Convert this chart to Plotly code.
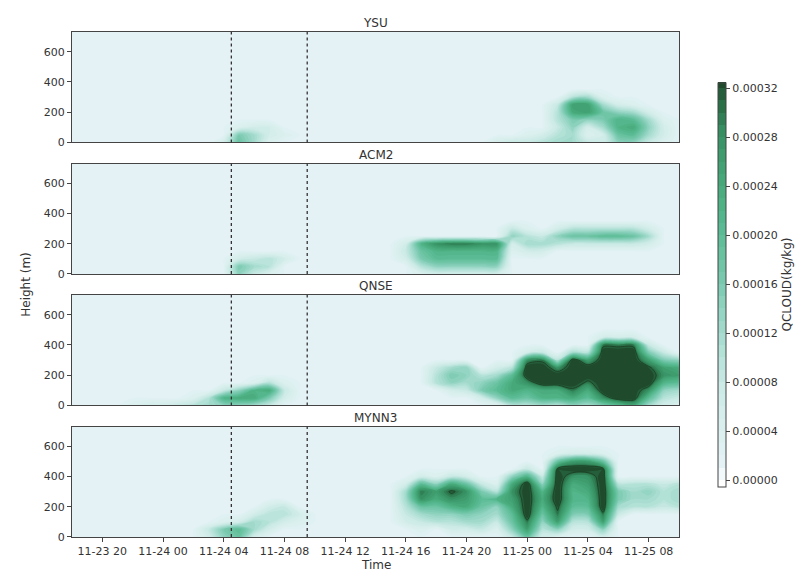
import numpy as np
import pandas as pd
import plotly.graph_objects as go
from plotly.subplots import make_subplots

# ---------------- data ----------------
schemes = ["YSU", "ACM2", "QNSE", "MYNN3"]
start_time = "2023-11-23 18:00"
n_times = 41                      # hourly, 11-23 18:00 .. 11-25 10:00
heights = list(range(0, 800, 50))  # m, 16 levels
vline_times = ["2023-11-24 04:30", "2023-11-24 09:30"]
cbar_ticks = [0.0, 0.00004, 0.00008, 0.00012, 0.00016, 0.00020, 0.00024, 0.00028, 0.00032]
xtick_start = "2023-11-23 20:00"

# QCLOUD coded per hour column (bottom->top, 0..750 m); char index * 2e-5 kg/kg
LEVEL_CODE = "0123456789abcdefgh"
LEVEL_STEP = 0.00002
BG = "1111111111111111"

ysu_cols = [BG] * 10 + [
    "3111111111111111", "9821111111111111", "6631111111111111", "2331111111111111",
    "1211111111111111"] + [BG] * 13 + [
    "3111111111111111", "4111111111111111", "4211111111111111", "5311111111111111",
    "6545541111111111", "6678cd5111111111", "4237dd6111111111", "3368962111111111",
    "79bb731111111111", "7aca621111111111", "4676311111111111", "2332111111111111",
    BG]

acm2_cols = [BG] * 11 + [
    "7831111111111111", "4641111111111111", "2551111111111111", "1131111111111111"] + [BG] * 7 + [
    "1134311111111111", "2589b11111111111", "37abe11111111111", "37abf11111111111",
    "37abf11111111111", "37abe11111111111", "37abe11111111111", "1112374111111111",
    "1113652111111111", "1113641111111111", "1111573111111111", "1111495111111111",
    "1111495111111111", "11114a5111111111", "11114a5111111111", "1111495111111111",
    "1111363111111111", BG, BG]

qnse_cols = [BG] * 4 + [
    "2111111111111111", "3111111111111111", "3111111111111111", "4111111111111111",
    "5211111111111111", "6511111111111111", "7b41111111111111", "7c71111111111111",
    "6cb2111111111111", "48c5111111111111", "1342111111111111"] + [BG] * 9 + [
    "1115541111111111", "1137861111111111", "1146771111111111", "1387511111111111",
    "17a9631111111111", "5acca51111111111", "59behhe311111111", "6bchhhf411111111",
    "5bchhe5111111111", "7cfhhhh611111111", "6acfhhd511111111", "8ehhhhhhf3111111",
    "ahhhhhhhf3111111", "chhhhhhhf3111111", "6aehhgd841111111", "357bed8411111111",
    "246adc7111111111"]

mynn3_cols = [BG] * 9 + [
    "3411111111111111", "7821111111111111", "9a31111111111111", "3663111111111111",
    "1355311111111111", "1135411111111111", "1123111111111111"] + [BG] * 6 + [
    "1134566311111111", "12469efa31111111", "11579cd721111111", "1357begc41111111",
    "1368cde931111111", "14679a8411111111", "12467b5211111111", "479acdec71111111",
    "9dfhhhhhb4111111", "3579bcb741111111", "27dfghhhhg921111", "1358abbcehd31111",
    "1358abcdehd31111", "37dfhhhhhg921111", "1114688511111111", "1111566511111111",
    "1111567511111111", "1111455411111111", "1111566511111111"]

panels = [ysu_cols, acm2_cols, qnse_cols, mynn3_cols]


def decode(cols):
    assert len(cols) == n_times, len(cols)
    for c in cols:
        assert len(c) == len(heights), c
    arr = np.array([[LEVEL_CODE.index(ch) * LEVEL_STEP for ch in col] for col in cols])
    return arr.T  # (heights, times)


times = pd.date_range(start_time, periods=n_times, freq="h")

# ---------------- figure ----------------
fig = make_subplots(rows=4, cols=1, shared_xaxes=True, vertical_spacing=0.0416,
                    subplot_titles=schemes)

colorscale = [
    [0.0, "#ffffff"],
    [0.0625, "#e3f2f5"],
    [0.125, "#ddf0f0"],
    [0.25, "#cbeae5"],
    [0.375, "#a6dccf"],
    [0.5, "#7ccab1"],
    [0.625, "#5bbc95"],
    [0.75, "#47aa7a"],
    [0.875, "#379163"],
    [0.94, "#2b7148"],
    [1.0, "#1f4a2b"],
]

for i, cols in enumerate(panels):
    z = decode(cols)
    fig.add_trace(go.Contour(
        x=times, y=heights, z=z, coloraxis="coloraxis",
        contours=dict(start=0, end=0.00032, size=0.00001, coloring="fill"),
        line=dict(width=0), hoverinfo="skip"), row=i + 1, col=1)
    fig.add_trace(go.Contour(
        x=times, y=heights, z=z, showscale=False,
        contours=dict(start=0.00031, end=0.00031, size=0.00001, coloring="lines"),
        colorscale=[[0, "#1b3b22"], [1, "#1b3b22"]],
        line=dict(width=0.8), hoverinfo="skip"), row=i + 1, col=1)
    for vt in vline_times:
        fig.add_shape(type="line", x0=vt, x1=vt, y0=0, y1=1,
                      xref=f"x{i + 1}" if i else "x", yref=f"y{i + 1} domain" if i else "y domain",
                      line=dict(color="#333333", width=1.3, dash="dot"))

axis_common = dict(showline=True, linecolor="#444444", linewidth=1, mirror=True,
                   showgrid=False, zeroline=False)
for i in range(4):
    fig.update_yaxes(range=[0, 730], tickvals=[0, 200, 400, 600], ticks="outside",
                     ticklen=4, tickcolor="#444444",
                     tickfont=dict(size=11, color="#333333"), row=i + 1, col=1, **axis_common)
    fig.update_xaxes(range=["2023-11-23 18:00", "2023-11-25 10:00"], type="date",
                     row=i + 1, col=1, **axis_common)
    if i < 3:
        fig.update_xaxes(showticklabels=False, ticks="", row=i + 1, col=1)
fig.update_xaxes(tickformat="%m-%d %H", dtick=4 * 3600 * 1000, tick0=xtick_start,
                 ticks="outside", ticklen=4, tickcolor="#444444",
                 tickfont=dict(size=11, color="#333333"), row=4, col=1)

for ann in fig.layout.annotations:
    ann.font = dict(size=12, color="#333333", family="DejaVu Sans")

fig.add_annotation(text="Height (m)", textangle=-90, x=-0.077, y=0.5, xref="paper", yref="paper",
                   xanchor="center", yanchor="middle",
                   showarrow=False, font=dict(size=12, color="#333333"))
fig.add_annotation(text="Time", x=0.5, y=-0.037, xref="paper", yref="paper", yanchor="top",
                   xanchor="center", showarrow=False, font=dict(size=12, color="#333333"))

fig.update_layout(
    width=800, height=572,
    margin=dict(l=72, r=121, t=32, b=35, autoexpand=False),
    paper_bgcolor="white", plot_bgcolor="#e3f2f5",
    font=dict(family="DejaVu Sans", color="#333333"),
    showlegend=False,
    coloraxis=dict(
        cmin=0, cmax=0.00032, colorscale=colorscale,
        colorbar=dict(x=1.064, xanchor="left", y=0.5, yanchor="middle", len=0.8,
                      lenmode="fraction", xpad=0, ypad=0,
                      thickness=8, outlinewidth=1, outlinecolor="#444444",
                      tickvals=cbar_ticks, tickformat=".5f", ticks="outside", ticklen=4,
                      tickcolor="#444444", tickfont=dict(size=11, color="#333333"),
                      title=dict(text="QCLOUD(kg/kg)", side="right",
                                 font=dict(size=12, color="#333333")))),
)

fig.write_html("out.html")
